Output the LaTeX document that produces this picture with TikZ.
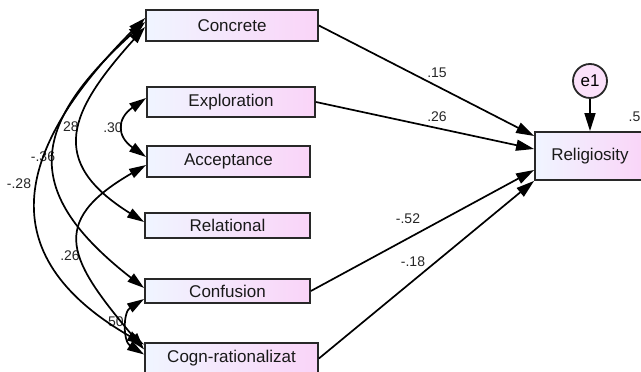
\documentclass[tikz,border=0pt]{standalone}
\usepackage{fontspec}
\setmainfont{Liberation Sans}
\usetikzlibrary{arrows.meta}

\definecolor{boxleft}{RGB}{240,245,255}
\definecolor{boxright}{RGB}{250,212,248}
\definecolor{boxline}{RGB}{40,40,40}

\begin{document}
\begin{tikzpicture}[x=1pt, y=1pt,
    obs/.style={draw=boxline, line width=1.8pt, left color=boxleft, right color=boxright,
        font=\fontsize{17}{19}\selectfont, text=black!90, inner sep=0pt},
    err/.style={circle, draw=boxline, line width=1.8pt, fill=boxright!70, minimum size=34pt,
        inner sep=0pt, font=\fontsize{17}{19}\selectfont},
    reg/.style={line width=1.7pt, -{Triangle[length=18pt,width=11pt]}},
    cov/.style={line width=1.7pt, {Triangle[length=17pt,width=10pt]}-{Triangle[length=17pt,width=10pt]}},
    coef/.style={font=\fontsize{14}{16}\selectfont, text=black!85, inner sep=0pt}]

    \useasboundingbox (0,0) rectangle (641,372);
    \clip (0,0) rectangle (641,372);

    % Observed variables
    \node[obs, minimum width=172pt, minimum height=31pt] (concrete) at (232,346.5) {Concrete};
    \node[obs, minimum width=168pt, minimum height=30pt] (exploration) at (231,270) {Exploration};
    \node[obs, minimum width=163pt, minimum height=31pt] (acceptance) at (228.5,210.5) {Acceptance};
    \node[obs, minimum width=165pt, minimum height=25pt] (relational) at (227.5,146.5) {Relational};
    \node[obs, minimum width=165pt, minimum height=24pt] (confusion) at (227.5,81) {Confusion};
    \node[obs, minimum width=173pt, minimum height=31pt] (cogn) at (231.5,13.5) {Cogn-rationalizat};
    \node[obs, minimum width=110pt, minimum height=48pt] (religiosity) at (590,216) {Religiosity};
    \node[err] (e1) at (590,291) {e1};

    % Coefficients
    \node[coef] (c15) at (437,299) {.15};
    \node[coef] (c26) at (437,255) {.26};
    \node[coef] (c52) at (408,153) {-.52};
    \node[coef] (c18) at (413,110) {-.18};
    \node[coef, anchor=east] (r2) at (640.5,255) {.5};
    \node[coef] (k28) at (71,245) {28};
    \node[coef] (k30) at (113,244) {.30};
    \node[coef] (k36) at (43,215) {-.36};
    \node[coef] (kn28) at (19,188) {-.28};
    \node[coef] (k26) at (70,116) {.26};
    \node[coef] (k50) at (116,50) {50};

    % Regression paths
    \draw[reg] (concrete.east) -- ([yshift=20pt]religiosity.west);
    \draw[reg] (exploration.east) -- ([yshift=7pt]religiosity.west);
    \draw[reg] (confusion.east) -- ([yshift=-14pt]religiosity.west);
    \draw[reg] (cogn.east) -- (religiosity.south west);
    \draw[reg] (e1.south) -- (religiosity.north);

    % Covariances
    \draw[cov] ([yshift=7.5pt]concrete.west) to[out=225, in=150, looseness=1.42] ([yshift=14pt]cogn.west);
    \draw[cov] ([yshift=3.5pt]concrete.west) to[out=222, in=142, looseness=1.5] ([yshift=3pt]confusion.west);
    \draw[cov] ([yshift=-1.5pt]concrete.west) to[out=228, in=148, looseness=1.5] ([yshift=3.5pt]relational.west);
    \draw[cov] ([yshift=4pt]exploration.west) to[out=215, in=145, looseness=1.56] ([yshift=4.5pt]acceptance.west);
    \draw[cov] ([yshift=-3.5pt]acceptance.west) to[out=210, in=130, looseness=1.6] ([yshift=9pt]cogn.west);
    \draw[cov] ([yshift=-8pt]confusion.west) to[out=212, in=148, looseness=1.15] ([yshift=4pt]cogn.west);

\end{tikzpicture}
\end{document}
